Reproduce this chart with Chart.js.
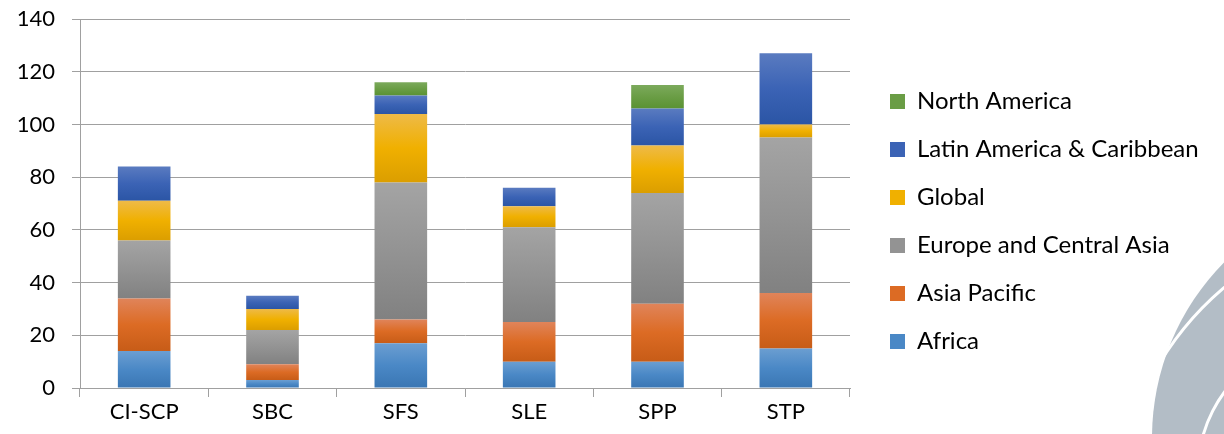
<!DOCTYPE html>
<html>
<head>
<meta charset="utf-8">
<script src="https://cdn.jsdelivr.net/npm/chart.js@4/dist/chart.umd.min.js"></script>
<style>
html,body{margin:0;padding:0;background:#fff;}
#wrap{position:relative;width:1224px;height:434px;}
</style>
</head>
<body>
<div id="wrap"><canvas id="c" width="1224" height="434"></canvas></div>
<script>
const categories = ["CI-SCP", "SBC", "SFS", "SLE", "SPP", "STP"];
const africa       = [14, 3, 17, 10, 10, 15];
const asiaPacific  = [20, 6, 9, 15, 22, 21];
const europeCA     = [22, 13, 52, 36, 42, 59];
const global       = [15, 8, 26, 8, 18, 5];
const latinAmerica = [13, 5, 7, 7, 14, 27];
const northAmerica = [0, 0, 5, 0, 9, 0];
const yTicks = [0, 20, 40, 60, 80, 100, 120, 140];

const seriesNames = ["Africa", "Asia Pacific", "Europe and Central Asia", "Global", "Latin America & Caribbean", "North America"];
const seriesData = [africa, asiaPacific, europeCA, global, latinAmerica, northAmerica];
const gradStops = [
  ["#6b9ed1", "#4a88c6", "#3a76b3"],
  ["#e0845a", "#dc6b24", "#c75c17"],
  ["#a4a4a4", "#939393", "#818181"],
  ["#eeba48", "#f0b000", "#db9e00"],
  ["#5a7bc0", "#3b63b5", "#2b55a5"],
  ["#7caa5c", "#6a9d45", "#5a9232"]
];
const legendColors = ["#4a88c6", "#dc6b24", "#939393", "#f0b000", "#3b63b5", "#6a9d45"];

function barGradient(ctx) {
  const chart = ctx.chart;
  const ds = ctx.datasetIndex, i = ctx.dataIndex;
  if (ctx.type !== 'data' || !chart.chartArea || !chart.scales || !chart.scales.y) return legendColors[ds];
  const y = chart.scales.y;
  let base = 0;
  for (let k = 0; k < ds; k++) base += seriesData[k][i];
  const top = base + seriesData[ds][i];
  const y0 = y.getPixelForValue(top), y1 = y.getPixelForValue(base);
  if (!isFinite(y0) || !isFinite(y1) || y0 === y1) return legendColors[ds];
  const g = chart.ctx.createLinearGradient(0, y0, 0, y1);
  g.addColorStop(0, gradStops[ds][0]);
  g.addColorStop(0.5, gradStops[ds][1]);
  g.addColorStop(1, gradStops[ds][2]);
  return g;
}

const datasets = seriesNames.map((name, k) => ({
  label: name,
  data: seriesData[k],
  backgroundColor: barGradient,
  borderWidth: 0,
  barPercentage: 0.41,
  categoryPercentage: 1.0
}));

const FONT = "Lato, 'Open Sans', sans-serif";

const layoutFix = {
  id: 'layoutFix',
  beforeLayout(chart) {
    const lg = chart.legend;
    if (lg && !lg._patched) {
      const orig = lg.fit.bind(lg);
      lg.fit = function () { orig(); this.width = 374; };
      lg._patched = true;
    }
  },
  afterLayout(chart) {
    const lg = chart.legend;
    if (lg) { lg.left += 16; lg.right += 16; lg.top -= 5; lg.bottom -= 5; }
  }
};

const watermark = {
  id: 'watermark',
  beforeDraw(chart) {
    const c = chart.ctx;
    c.save();
    c.beginPath();
    c.rect(0, 0, 1224, 434);
    c.clip();
    c.fillStyle = "#b3bdc6";
    c.beginPath();
    c.arc(1402, 438, 250, 0, Math.PI * 2);
    c.fill();
    c.strokeStyle = "#ffffff";
    c.lineWidth = 3;
    c.beginPath();
    c.arc(1420, 520, 304, Math.PI * 1.05, Math.PI * 1.5);
    c.stroke();
    c.beginPath();
    c.arc(1332, 472, 134, Math.PI * 0.9, Math.PI * 1.5);
    c.stroke();
    c.restore();
  }
};

new Chart(document.getElementById('c'), {
  type: 'bar',
  data: { labels: categories, datasets: datasets },
  plugins: [layoutFix, watermark],
  options: {
    responsive: false,
    animation: false,
    layout: { padding: { top: 19, left: 0, right: 0, bottom: 0 } },
    plugins: {
      legend: {
        position: 'right',
        reverse: true,
        labels: {
          font: { family: FONT, size: 24 },
          color: '#000',
          boxWidth: 15,
          boxHeight: 15,
          padding: 24,
          generateLabels(chart) {
            return chart.data.datasets.map((d, k) => ({
              text: d.label,
              fillStyle: legendColors[k],
              strokeStyle: legendColors[k],
              lineWidth: 0,
              hidden: false,
              datasetIndex: k
            }));
          }
        }
      },
      tooltip: { enabled: false }
    },
    scales: {
      x: {
        stacked: true,
        afterFit(s) { s.height = 46; },
        grid: { display: true, drawOnChartArea: false, drawTicks: true, tickLength: 9, color: '#a0a0a0', offset: true },
        border: { display: true, color: '#a0a0a0', width: 1 },
        ticks: { font: { family: FONT, size: 22 }, color: '#000', padding: 2 }
      },
      y: {
        stacked: true,
        min: 0,
        max: 140,
        afterFit(s) { s.width = 80; s.paddingTop = 0; s.paddingBottom = 0; },
        afterBuildTicks(s) { s.ticks = yTicks.map(v => ({ value: v })); },
        grid: { color: '#a0a0a0', lineWidth: 1, tickLength: 8, drawTicks: true },
        border: { display: true, color: '#a0a0a0', width: 1 },
        ticks: { font: { family: FONT, size: 22 }, color: '#000', padding: 17 }
      }
    }
  }
});
</script>
</body>
</html>
